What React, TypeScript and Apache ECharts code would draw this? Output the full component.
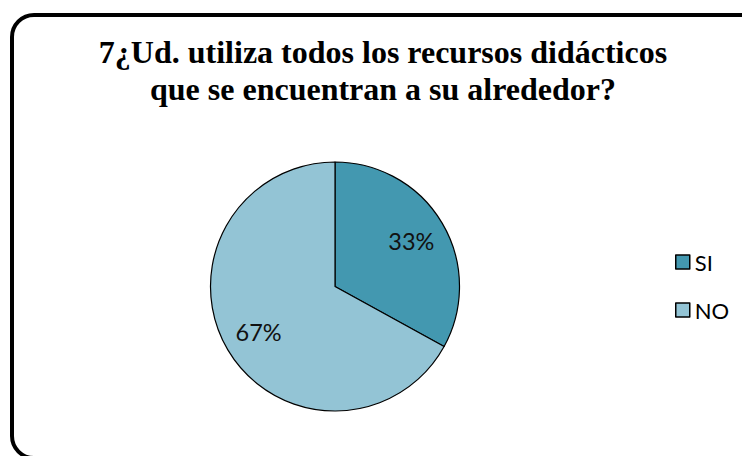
import React, { useEffect, useRef } from "react";
import * as echarts from "echarts";

const titleLines = ["7¿Ud. utiliza todos los recursos didácticos", "que se encuentran a su alrededor?"];
const categories = ["SI", "NO"];
const values = [33, 67];
const colors = ["#4398B0", "#93C4D5"];

export default function App() {
  const ref = useRef<HTMLDivElement>(null);
  useEffect(() => {
    if (!ref.current) return;
    const chart = echarts.init(ref.current, null, { renderer: "svg" });
    const data = categories.map((name, i) => ({ name, value: values[i], itemStyle: { color: colors[i] } }));
    chart.setOption({
      animation: false,
      backgroundColor: "#fff",
      title: {
        text: titleLines.join("\n"),
        left: 378,
        textAlign: "center",
        top: 28,
        textStyle: {
          fontFamily: "Liberation Serif",
          fontWeight: "bold",
          fontSize: 32,
          lineHeight: 37,
          color: "#000",
        },
      },
      legend: {
        orient: "vertical",
        left: 670,
        top: 246,
        itemWidth: 14,
        itemHeight: 14,
        itemGap: 26,
        icon: "rect",
        data: categories,
        itemStyle: { borderColor: "#000", borderWidth: 1.5 },
        textStyle: { fontFamily: "Lato", fontSize: 22, lineHeight: 22, color: "#000", padding: [0, 0, 0, 0] },
      },
      graphic: [
        {
          type: "rect",
          shape: { x: 12, y: 15, width: 760, height: 443, r: 22 },
          style: { fill: "none", stroke: "#000", lineWidth: 4 },
          z: 10,
        },
      ],
      series: [
        {
          type: "pie",
          center: [335, 286.5],
          radius: [0, 124.5],
          startAngle: 90,
          clockwise: true,
          label: { show: false },
          labelLine: { show: false },
          itemStyle: { borderColor: "#000", borderWidth: 1.2 },
          emphasis: { disabled: true },
          data,
        },
        {
          type: "pie",
          center: [335, 286.5],
          radius: [47, 124.5],
          startAngle: 90,
          clockwise: true,
          silent: true,
          z: 3,
          itemStyle: { color: "transparent", borderWidth: 0 },
          label: {
            show: true,
            position: "inside",
            formatter: "{d}%",
            fontFamily: "Lato",
            fontSize: 23.5,
            color: "#111",
          },
          labelLine: { show: false },
          emphasis: { disabled: true },
          data: categories.map((name, i) => ({ name, value: values[i] })),
        },
      ],
    });
    return () => chart.dispose();
  }, []);
  return <div ref={ref} style={{ position: "fixed", left: 0, top: 0, width: 742, height: 456 }} />;
}
